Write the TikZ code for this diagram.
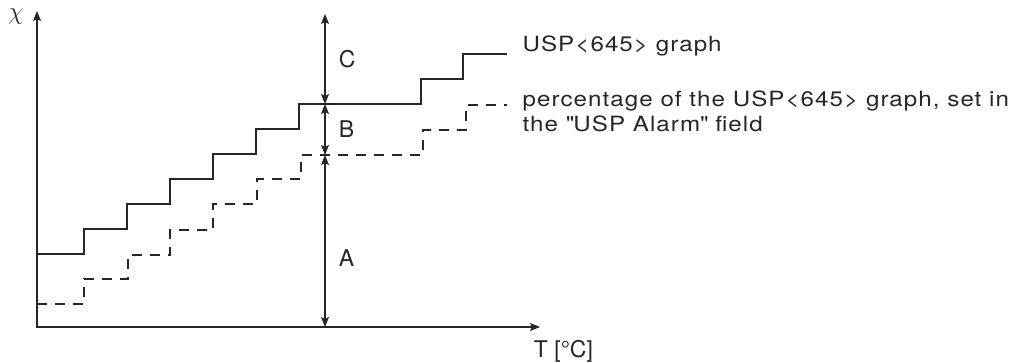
\documentclass[tikz,border=0pt]{standalone}
\usepackage{fontspec}
\setmainfont{TeX Gyre Heros}
\newfontfamily\legendfont[FakeStretch=1.15, LetterSpace=5]{TeX Gyre Heros}
\usetikzlibrary{arrows.meta, positioning}

\begin{document}
\begin{tikzpicture}[
    x=1pt, y=-1pt, color=black!85,
    line width=1.2pt, line join=miter,
    dim/.style={{Stealth[length=10pt, width=8pt, inset=2pt]}-{Stealth[length=10pt, width=8pt, inset=2pt]}},
    alarm/.style={dash pattern=on 10pt off 8pt},
    legend/.style={anchor=base west, inner sep=0pt, font=\legendfont\fontsize{21}{25}\selectfont},
    lbl/.style={font=\fontsize{23}{27}\selectfont}
]
\useasboundingbox (0,0) rectangle (1019,363);

% axes
\coordinate (O) at (37,327);
\coordinate (ytop) at (37,11);
\coordinate (xend) at (540,327);
\draw[dim] (ytop) |- (xend);
\node[font=\fontsize{27}{30}\selectfont] (chi) at (16,17) {$\chi$};
\node[lbl, anchor=west] (tlbl) at (530,351) {T [°C]};

% USP<645> limit and alarm level
\draw (37,254) -| (84,229) -| (127,204) -| (170,179) -| (213,154) -| (256,129)
  -| (299,104) -| (421,79) -| (463,54) -- (507,54) coordinate (uspEnd);
\draw[alarm] (37,304) -| (84,279) -| (128,255) -| (170,230) -| (213,204) -| (257,179)
  -| (301,155) -| (423,130) -| (466,105) -- (507,105) coordinate (alarmEnd);

% distances
\coordinate (cTop) at (325,14);
\coordinate (cUsp) at (325,104);
\coordinate (cAlarm) at (325,155);
\coordinate (cBot) at (325,327);
\draw[dim] (cTop) -- (cUsp) node[lbl, midway, right=10pt] (c) {C};
\draw[dim] (cUsp) -- (cAlarm) node[lbl, midway, right=10pt] (b) {B};
\draw[dim] (cAlarm) -- (cBot) node[lbl, pos=0.6, right=10pt] (a) {A};

% legend
\node[legend] (uspTxt) at (522,52) {USP<645> graph};
\node[legend] (alarmTxt) at (522,107) {percentage of the USP<645> graph, set in};
\node[legend] (alarmTxt2) at (522,132) {the \textquotedbl USP Alarm\textquotedbl{} field};
\end{tikzpicture}
\end{document}
